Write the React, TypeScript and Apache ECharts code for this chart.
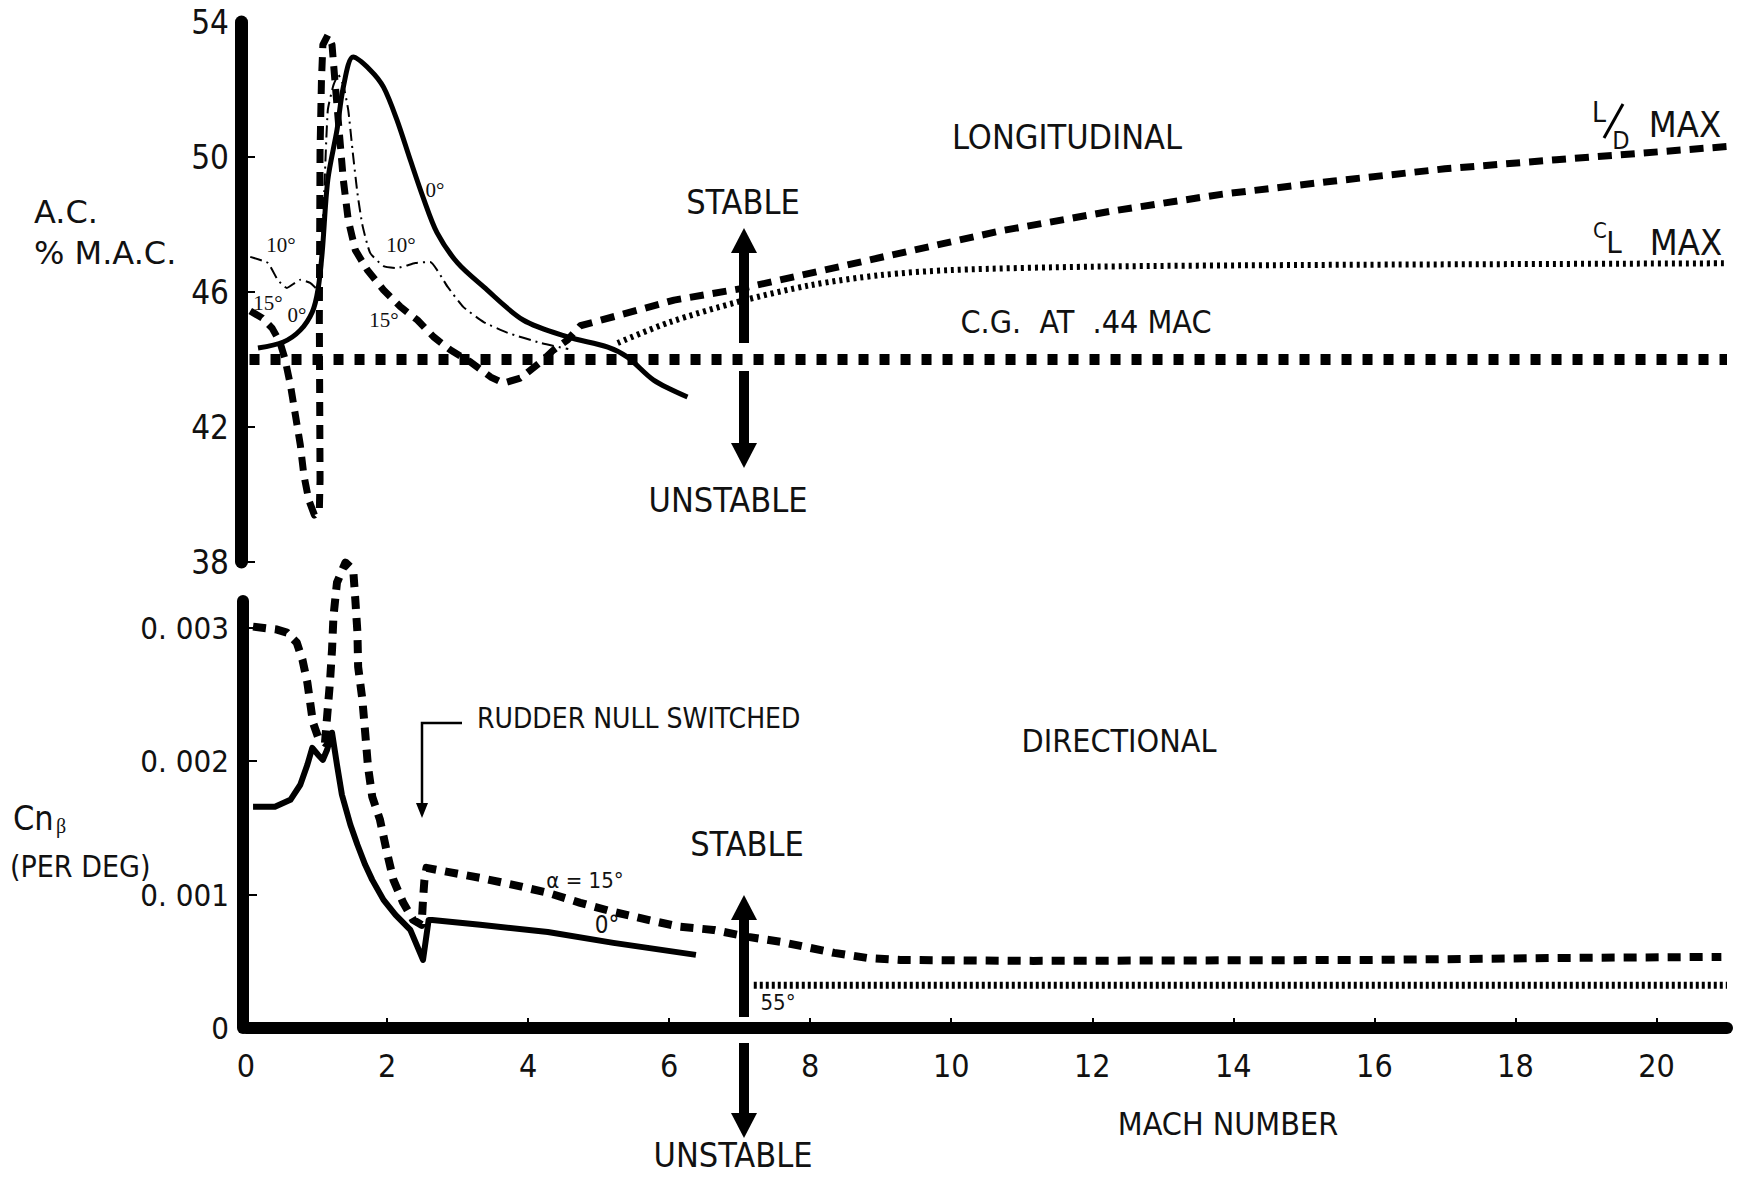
import React, { useEffect, useRef } from "react";
import * as echarts from "echarts";

const COND = "'DejaVu Sans Condensed', 'Liberation Sans Narrow', sans-serif";
const SANS = "'DejaVu Sans', 'Liberation Sans', sans-serif";
const SERIF = "'Liberation Serif', 'DejaVu Serif', serif";

// axis ticks
const machTicks = [0, 2, 4, 6, 8, 10, 12, 14, 16, 18, 20];
const acTicks = [38, 42, 46, 50, 54];
const acTickMarks = [38, 42, 46, 50];
const cnTicks = [0, 0.001, 0.002, 0.003];

// ---- LONGITUDINAL (A.C. % M.A.C.) ----
const cgMach = [0.05, 21];
const cgAC = [44, 44];

const alpha0Mach = [0.17, 0.53, 0.77, 0.94, 1.02, 1.08, 1.16, 1.29, 1.38, 1.52, 1.76, 1.95, 2.14, 2.33, 2.51, 2.71, 3.0, 3.37, 3.93, 4.56, 5.13, 5.41, 5.78, 6.26];
const alpha0AC = [44.34, 44.52, 44.87, 45.41, 46.06, 47.16, 49.32, 50.8, 52.07, 52.96, 52.58, 52.07, 51.1, 49.91, 48.81, 47.75, 46.86, 46.15, 45.17, 44.67, 44.37, 44.07, 43.39, 42.89];

const alpha10Mach = [0.06, 0.31, 0.45, 0.58, 0.77, 0.91, 1.02, 1.07, 1.11, 1.16, 1.24, 1.31, 1.38, 1.45, 1.51, 1.58, 1.65, 1.76, 1.95, 2.14, 2.4, 2.61, 2.86, 3.08, 3.37, 3.71, 4.18, 4.57];
const alpha10AC = [47.04, 46.86, 46.36, 46.12, 46.36, 46.27, 46.06, 47.24, 49.02, 51.39, 52.13, 52.43, 52.13, 51.39, 50.21, 48.93, 47.99, 47.16, 46.77, 46.71, 46.86, 46.89, 46.15, 45.56, 45.11, 44.79, 44.49, 44.31];

// alpha 15 deg, continuing as L/D MAX
const alpha15Mach = [0.06, 0.23, 0.37, 0.48, 0.55, 0.63, 0.7, 0.77, 0.82, 0.89, 0.97, 1.04, 1.05, 1.04, 1.05, 1.07, 1.09, 1.16, 1.22, 1.26, 1.32, 1.38, 1.45, 1.55, 1.72, 1.95, 2.19, 2.43, 2.66, 2.9, 3.18, 3.47, 3.65, 3.89, 4.18, 4.36, 4.56, 4.74, 5.41, 6.07, 7.02, 7.86, 9.12, 10.7, 12.28, 13.85, 15.43, 17.0, 18.58, 21.0];
const alpha15AC = [45.44, 45.23, 44.93, 44.52, 44.04, 43.24, 42.36, 41.47, 40.58, 39.84, 39.39, 39.54, 40.43, 45.17, 50.2, 52.28, 53.32, 53.61, 53.32, 52.28, 50.8, 49.32, 48.13, 47.24, 46.65, 46.06, 45.56, 45.17, 44.67, 44.28, 43.93, 43.48, 43.3, 43.45, 43.93, 44.28, 44.58, 45.0, 45.38, 45.76, 46.1, 46.49, 47.08, 47.81, 48.4, 48.9, 49.29, 49.65, 49.92, 50.31];

const clMaxMach = [5.27, 6.0, 7.0, 8.0, 9.0, 10.0, 12.0, 15.0, 21.0];
const clMaxAC = [44.49, 45.1, 45.72, 46.2, 46.5, 46.65, 46.75, 46.8, 46.85];

// ---- DIRECTIONAL (Cn beta per deg) ----
const dir15Mach = [0.1, 0.44, 0.58, 0.72, 0.8, 0.87, 0.91, 0.95, 1.02, 1.12, 1.15, 1.19, 1.22, 1.24, 1.29, 1.41, 1.52, 1.55, 1.58, 1.59, 1.65, 1.69, 1.73, 1.79, 1.9, 2.0, 2.09, 2.23, 2.37, 2.49, 2.51, 2.53, 2.56, 2.86, 3.32, 3.79, 4.28, 4.74, 5.21, 5.7, 6.16, 6.63, 7.12, 7.59, 8.34, 8.81, 9.28, 11.16, 15.88, 18.71, 20.92];
const dir15Cn = [0.003008, 0.002986, 0.002963, 0.002888, 0.002761, 0.002588, 0.002438, 0.002288, 0.002183, 0.002138, 0.002333, 0.002588, 0.002836, 0.003083, 0.003338, 0.003488, 0.003436, 0.003211, 0.002963, 0.002708, 0.002461, 0.002213, 0.001958, 0.001733, 0.00156, 0.001313, 0.00111, 0.000938, 0.00081, 0.000773, 0.00096, 0.00111, 0.0012, 0.00117, 0.001125, 0.001073, 0.001013, 0.000938, 0.00087, 0.00081, 0.000758, 0.000735, 0.000683, 0.000645, 0.000563, 0.000525, 0.00051, 0.000503, 0.00051, 0.000525, 0.000533];

const dir0Mach = [0.1, 0.41, 0.63, 0.77, 0.87, 0.94, 1.02, 1.09, 1.15, 1.22, 1.29, 1.36, 1.48, 1.58, 1.69, 1.79, 1.95, 2.12, 2.33, 2.51, 2.59, 2.64, 3.32, 4.28, 5.21, 6.38];
const dir0Cn = [0.001658, 0.001658, 0.00171, 0.001823, 0.001973, 0.0021, 0.002048, 0.00201, 0.002085, 0.002213, 0.001973, 0.001748, 0.001523, 0.001373, 0.001223, 0.00111, 0.00096, 0.000848, 0.000735, 0.00051, 0.00081, 0.00081, 0.000773, 0.00072, 0.000638, 0.000548];

const dir55Mach = [7.2, 21.0];
const dir55Cn = [0.00032, 0.00032];

const zip = (xs: number[], ys: number[]) => xs.map((x, i) => [x, ys[i]]);

function mkLine(idx: number, xs: number[], ys: number[], lineStyle: any, z = 3, smooth: number | boolean = false) {
  return {
    type: "line",
    xAxisIndex: idx,
    yAxisIndex: idx,
    data: zip(xs, ys),
    symbol: "none",
    showSymbol: false,
    clip: false,
    silent: true,
    smooth,
    z,
    lineStyle: { color: "#000", cap: "butt", join: "round", ...lineStyle },
  };
}

function txt(text: string, x: number, y: number, size: number, family: string, align = "center", vAlign = "middle") {
  return {
    type: "text",
    silent: true,
    z: 50,
    style: {
      text,
      x,
      y,
      fill: "#111",
      font: `${size}px ${family}`,
      textAlign: align,
      align,
      textVerticalAlign: vAlign,
      verticalAlign: vAlign,
    },
  };
}

function arrow(x: number, tipY: number, endY: number) {
  const dir = endY > tipY ? 1 : -1;
  const headLen = 25;
  const half = 13;
  const baseY = tipY + dir * headLen;
  const y0 = Math.min(baseY, endY);
  const y1 = Math.max(baseY, endY);
  return [
    { type: "rect", silent: true, z: 40, shape: { x: x - 5, y: y0 - 1, width: 10, height: y1 - y0 + 2 }, style: { fill: "#000" } },
    { type: "polygon", silent: true, z: 40, shape: { points: [[x - half, baseY], [x + half, baseY], [x, tipY]] }, style: { fill: "#000" } },
  ];
}

export default function App() {
  const ref = useRef<HTMLDivElement>(null);
  useEffect(() => {
    if (!ref.current) return;
    const chart = echarts.init(ref.current, undefined, { renderer: "svg" });

    const axisLabelBase = { color: "#111", fontFamily: COND };

    const graphics: any[] = [
      // left titles
      txt("A.C.", 34, 212, 32, SANS, "left"),
      txt("% M.A.C.", 34, 253, 32, SANS, "left"),
      txt("Cn", 13, 818, 34, COND, "left"),
      txt("β", 56, 826, 20, SERIF, "left"),
      txt("(PER DEG)", 10, 866, 30, COND, "left"),
      // longitudinal labels
      txt("LONGITUDINAL", 1067, 137, 34, COND),
      txt("STABLE", 743, 202, 34, COND),
      txt("UNSTABLE", 728, 500, 34, COND),
      txt("C.G.  AT  .44 MAC", 1086, 322, 32, COND),
      txt("L", 1599, 112, 28, COND),
      { type: "line", silent: true, z: 50, shape: { x1: 1604, y1: 138, x2: 1623, y2: 104 }, style: { stroke: "#000", lineWidth: 3 } },
      txt("D", 1621, 140, 25, COND),
      txt("MAX", 1685, 124, 36, COND),
      txt("C", 1600, 230, 22, COND),
      txt("L", 1614, 242, 31, COND),
      txt("MAX", 1686, 242, 36, COND),
      // degree labels (top)
      txt("0°", 435, 190, 21, SERIF),
      txt("10°", 401, 245, 21, SERIF),
      txt("15°", 384, 320, 21, SERIF),
      txt("10°", 281, 245, 21, SERIF),
      txt("15°", 268, 303, 21, SERIF),
      txt("0°", 297, 315, 21, SERIF),
      // directional labels
      txt("DIRECTIONAL", 1119, 741, 32, COND),
      txt("RUDDER NULL SWITCHED", 477, 718, 28, COND, "left"),
      txt("STABLE", 747, 844, 34, COND),
      txt("UNSTABLE", 733, 1155, 34, COND),
      txt("MACH NUMBER", 1228, 1124, 32, COND),
      txt("α = 15°", 585, 880, 22, COND),
      txt("0°", 607, 925, 24, COND),
      txt("55°", 778, 1002, 22, COND),
      // rudder pointer
      { type: "polyline", silent: true, z: 50, shape: { points: [[462, 723], [422, 723], [422, 806]] }, style: { stroke: "#000", lineWidth: 2.5, fill: null } },
      { type: "polygon", silent: true, z: 50, shape: { points: [[416, 803], [428, 803], [422, 818]] }, style: { fill: "#000" } },
      // stable / unstable arrows
      ...arrow(744, 228, 342),
      ...arrow(744, 468, 372),
      ...arrow(744, 895, 1016),
      ...arrow(744, 1138, 1044),
    ];

    chart.setOption({
      animation: false,
      backgroundColor: "#ffffff",
      grid: [
        { left: 246, right: 14, top: 22, height: 540 },
        { left: 246, right: 14, top: 601, height: 427 },
      ],
      xAxis: [
        { gridIndex: 0, type: "value", min: 0, max: 21, show: false },
        {
          gridIndex: 1,
          type: "value",
          min: 0,
          max: 21,
          interval: 2,
          axisLine: { show: true, onZero: false, lineStyle: { color: "#000", width: 12 } },
          axisTick: { show: true, inside: true, length: 10, customValues: machTicks, lineStyle: { color: "#000", width: 2 } },
          axisLabel: {
            ...axisLabelBase,
            fontSize: 32,
            margin: 22,
            customValues: machTicks,
            formatter: (v: number) => (machTicks.some((t) => Math.abs(t - v) < 1e-6) ? String(Math.round(v)) : ""),
          },
          splitLine: { show: false },
        },
      ],
      yAxis: [
        {
          gridIndex: 0,
          type: "value",
          min: 38,
          max: 54,
          interval: 4,
          offset: 5,
          axisLine: { show: true, onZero: false, lineStyle: { color: "#000", width: 13 } },
          axisTick: { show: true, inside: true, length: 14, customValues: acTickMarks, lineStyle: { color: "#000", width: 2 } },
          axisLabel: { ...axisLabelBase, fontSize: 33, margin: 12, customValues: acTicks },
          splitLine: { show: false },
        },
        {
          gridIndex: 1,
          type: "value",
          min: 0,
          max: 0.0032,
          interval: 0.001,
          offset: 3,
          axisLine: { show: true, onZero: false, lineStyle: { color: "#000", width: 12 } },
          axisTick: { show: true, inside: true, length: 14, customValues: cnTicks.slice(1), lineStyle: { color: "#000", width: 2 } },
          axisLabel: {
            ...axisLabelBase,
            fontSize: 31,
            margin: 14,
            customValues: cnTicks,
            formatter: (v: number) => {
              const k = Math.round(v * 1000);
              if (Math.abs(v * 1000 - k) > 1e-6 || k > 3) return "";
              return k === 0 ? "0" : "0. 00" + k;
            },
          },
          splitLine: { show: false },
        },
      ],
      series: [
        mkLine(0, cgMach, cgAC, { width: 11, type: [10, 11] }, 4),
        mkLine(0, alpha0Mach, alpha0AC, { width: 5 }, 3, 0.3),
        mkLine(0, alpha10Mach, alpha10AC, { width: 2, type: [12, 5, 2, 5] }, 3, 0.15),
        mkLine(0, alpha15Mach, alpha15AC, { width: 7, type: [14, 9] }),
        mkLine(0, clMaxMach, clMaxAC, { width: 6, type: [3, 4] }, 3, 0.3),
        mkLine(1, dir15Mach, dir15Cn, { width: 8, type: [13, 9] }),
        mkLine(1, dir0Mach, dir0Cn, { width: 6 }),
        mkLine(1, dir55Mach, dir55Cn, { width: 7, type: [3, 3] }),
      ],
      graphic: { elements: graphics },
    });

    return () => chart.dispose();
  }, []);

  return (
    <div
      ref={ref}
      style={{ position: "fixed", left: 0, top: 0, width: 1741, height: 1182, background: "#fff" }}
    />
  );
}
